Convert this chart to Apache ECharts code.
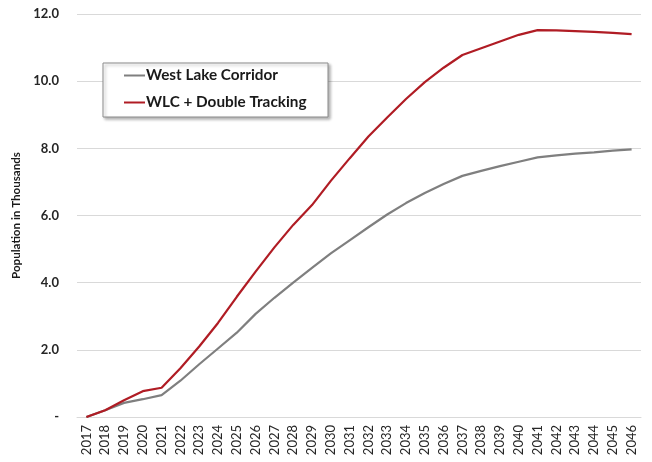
<!DOCTYPE html>
<html><head><meta charset="utf-8">
<script src="https://cdn.jsdelivr.net/npm/echarts@6/dist/echarts.min.js"></script>
<style>html,body{margin:0;padding:0;background:#fff}#c{width:652px;height:462px}</style>
</head><body><div id="c"></div>
<script>
var years = ['2017','2018','2019','2020','2021','2022','2023','2024','2025','2026','2027','2028','2029','2030','2031','2032','2033','2034','2035','2036','2037','2038','2039','2040','2041','2042','2043','2044','2045','2046'];
var westLake = [0, 0.2, 0.42, 0.53, 0.65, 1.08, 1.57, 2.04, 2.51, 3.07, 3.55, 4.0, 4.44, 4.87, 5.26, 5.65, 6.03, 6.37, 6.67, 6.94, 7.18, 7.33, 7.47, 7.6, 7.73, 7.79, 7.84, 7.88, 7.93, 7.97];
var wlcDouble = [0, 0.2, 0.5, 0.77, 0.87, 1.45, 2.1, 2.8, 3.58, 4.33, 5.05, 5.72, 6.31, 7.03, 7.7, 8.35, 8.92, 9.47, 9.97, 10.4, 10.78, 10.98, 11.18, 11.38, 11.52, 11.51, 11.49, 11.47, 11.44, 11.4];
var seriesNames = ['West Lake Corridor', 'WLC + Double Tracking'];
var yTitle = 'Population in Thousands';

var chart = echarts.init(document.getElementById('c'), null, {renderer: 'canvas'});
var FONT = 'Lato';
chart.setOption({
  animation: false,
  backgroundColor: '#fff',
  grid: {left: 77, right: 11, top: 14, bottom: 45, containLabel: false},
  graphic: [{
    type: 'rect', z: 3,
    shape: {x: 103, y: 63, width: 225, height: 54},
    style: {fill: '#fff', stroke: '#8c8c8c', lineWidth: 1, shadowBlur: 3, shadowOffsetX: 2, shadowOffsetY: 2, shadowColor: 'rgba(0,0,0,0.3)'}
  }],
  legend: {
    z: 5, orient: 'vertical', left: 124, top: 67, padding: 0,
    itemWidth: 21, itemHeight: 2, itemGap: 10, icon: 'rect',
    textStyle: {fontFamily: FONT, fontWeight: 'bold', fontSize: 15.3, color: '#1a1a1a', lineHeight: 17, padding: [0,0,0,-4]},
    data: seriesNames
  },
  xAxis: {
    type: 'category', data: years, boundaryGap: true,
    axisLine: {show: true, lineStyle: {color: '#d9d9d9', width: 1}},
    axisTick: {show: false},
    axisLabel: {rotate: 90, margin: 8, fontFamily: FONT, fontSize: 13, color: '#262626', interval: 0}
  },
  yAxis: {
    type: 'value', min: 0, max: 12, interval: 2,
    name: yTitle, nameLocation: 'middle', nameRotate: 90, nameGap: 52,
    nameTextStyle: {fontFamily: FONT, fontWeight: 'bold', fontSize: 11.6, color: '#1a1a1a'},
    axisLine: {show: false}, axisTick: {show: false},
    splitLine: {lineStyle: {color: '#d9d9d9', width: 1}},
    axisLabel: {margin: 18, fontFamily: FONT, fontWeight: 'bold', fontSize: 13, color: '#262626',
      formatter: function (v) { return v === 0 ? '-' : v.toFixed(1); }}
  },
  series: [
    {name: seriesNames[0], type: 'line', data: westLake, showSymbol: false, symbol: 'none', z: 2,
     lineStyle: {color: '#7f7f7f', width: 2.2}, itemStyle: {color: '#7f7f7f'}},
    {name: seriesNames[1], type: 'line', data: wlcDouble, showSymbol: false, symbol: 'none', z: 3,
     lineStyle: {color: '#b01c24', width: 2.2}, itemStyle: {color: '#b01c24'}}
  ]
});
</script></body></html>
